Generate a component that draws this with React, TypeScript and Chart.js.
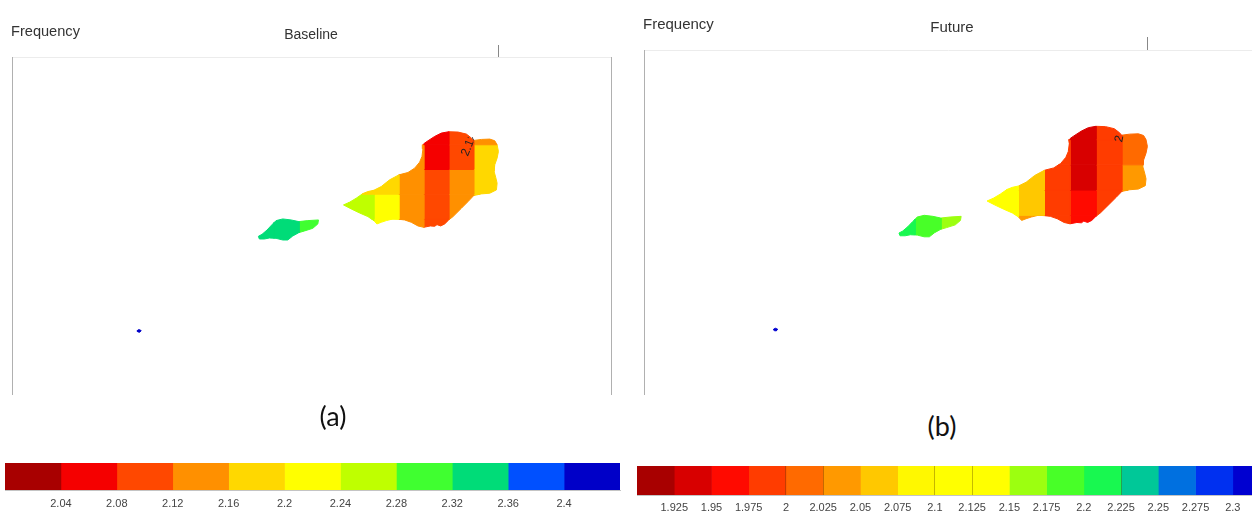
import React, { useEffect, useRef } from "react";
import { Chart, registerables } from "chart.js";

Chart.register(...registerables);

type P = [number, number];

// Coast lines digitised in map units; 74.75 units = one grid column, 74 units = one grid row
const mainCoast: P[] = [
  [12, 240], [30, 232], [50, 220], [70, 206], [85, 200], [103, 196], [125, 185], [150, 165], [178, 150], [205, 143],
  [225, 130], [240, 112], [247, 95], [250, 72], [248, 60], [262, 50], [285, 35], [305, 25], [327, 21], [355, 22],
  [380, 28], [393, 38], [402, 47], [425, 44], [450, 43], [465, 48], [472, 60], [476, 80], [472, 100], [465, 120],
  [463, 140], [468, 158], [472, 175], [470, 195], [450, 205], [425, 207], [402, 212], [385, 230], [365, 250], [340, 275],
  [327, 285], [315, 297], [303, 303], [292, 299], [285, 304], [272, 303], [252, 307], [235, 303], [215, 292], [195, 285],
  [178, 283], [160, 282], [140, 287], [125, 292], [112, 297], [103, 287], [85, 275], [60, 264], [35, 252],
];
const smallCoast: P[] = [
  [-243, 334], [-232, 328], [-217, 315], [-203, 300], [-190, 287], [-170, 282], [-145, 285], [-122, 290], [-95, 287], [-63, 285],
  [-65, 297], [-80, 310], [-105, 318], [-122, 323], [-140, 333], [-155, 345], [-170, 345], [-190, 340], [-210, 339], [-225, 342], [-240, 342],
];
const isletCoast: P[] = [[-607, 617], [-601, 613], [-594, 616], [-598, 621], [-604, 620]];

const columns = [-2, -1, 0, 1, 2, 3, 4, 5, 6, 7];
const rows = [-2, -1, 0, 1, 2];
const _ = null;

const baselineGrid: (number | null)[][] = [
  [_, _, _, _, _, _, _, 2.06, 2.1, 2.14],
  [_, _, _, _, _, _, 2.14, 2.06, 2.1, 2.18],
  [_, _, _, _, 2.18, 2.18, 2.14, 2.1, 2.14, 2.18],
  [_, _, _, 2.26, 2.26, 2.22, 2.14, 2.1, 2.14, 2.18],
  [2.34, 2.34, 2.3, _, 2.26, 2.22, 2.14, 2.1, 2.14, 2.18],
];
const futureGrid: (number | null)[][] = [
  [_, _, _, _, _, _, _, 1.94, 1.99, 2.01],
  [_, _, _, _, _, _, 1.99, 1.94, 1.99, 2.01],
  [_, _, _, _, 2.11, 2.06, 1.99, 1.94, 1.99, 2.04],
  [_, _, _, 2.11, 2.11, 2.06, 1.99, 1.96, 1.99, 2.04],
  [2.21, 2.19, 2.16, _, 2.11, 2.04, 1.99, 1.96, 1.99, 2.04],
];
const baselineIslet = 2.42;
const futureIslet = 2.31;

// Colour bars
const baselineLevels = [2.0, 2.04, 2.08, 2.12, 2.16, 2.2, 2.24, 2.28, 2.32, 2.36, 2.4, 2.44];
const baselineLabels = ["2.04", "2.08", "2.12", "2.16", "2.2", "2.24", "2.28", "2.32", "2.36", "2.4"];
const baselineColours = ["#A80000", "#F50000", "#FF4800", "#FF9000", "#FFD800", "#FFFF00", "#BFFF00", "#40FF30", "#00DC78", "#0050FF", "#0000C8"];

const futureLevels = [1.9, 1.925, 1.95, 1.975, 2.0, 2.025, 2.05, 2.075, 2.1, 2.125, 2.15, 2.175, 2.2, 2.225, 2.25, 2.275, 2.3, 2.325];
const futureLabels = ["1.925", "1.95", "1.975", "2", "2.025", "2.05", "2.075", "2.1", "2.125", "2.15", "2.175", "2.2", "2.225", "2.25", "2.275", "2.3"];
const futureColours = ["#A80000", "#D80000", "#FF0A00", "#FF3C00", "#FF6A00", "#FF9900", "#FFC800", "#FFF800", "#FFFF00", "#FFFF00", "#9CFF10", "#48FF28", "#18F850", "#00C898", "#0070E0", "#0030F0", "#0000D0"];
const futureSeams = [2.0, 2.025, 2.1, 2.125, 2.225];

const FONT = '"Liberation Sans", Arial, sans-serif';

const toCell = ([x, y]: P): P => [3 + (x - 103) / 74.75, (y - 134) / 74];

function clipPolygon(poly: P[], axis: 0 | 1, limit: number, keepAbove: boolean): P[] {
  const out: P[] = [];
  const inside = (p: P) => (keepAbove ? p[axis] >= limit : p[axis] <= limit);
  for (let i = 0; i < poly.length; i++) {
    const a = poly[i];
    const b = poly[(i + 1) % poly.length];
    if (inside(a)) out.push(a);
    if (inside(a) !== inside(b)) {
      const t = (limit - a[axis]) / (b[axis] - a[axis]);
      out.push([a[0] + t * (b[0] - a[0]), a[1] + t * (b[1] - a[1])]);
    }
  }
  return out;
}

function colourFor(value: number, levels: number[], colours: string[]) {
  for (let i = 0; i < colours.length; i++) if (value < levels[i + 1]) return colours[i];
  return colours[colours.length - 1];
}

function polygonDataset(poly: P[], colour: string) {
  const closed = [...poly, poly[0]];
  return {
    data: closed.map(([x, y]) => ({ x, y })),
    showLine: true,
    fill: "shape",
    pointRadius: 0,
    tension: 0,
    borderWidth: 1,
    borderColor: colour,
    backgroundColor: colour,
  };
}

function mapDatasets(grid: (number | null)[][], isletValue: number, levels: number[], colours: string[]) {
  const sets: any[] = [];
  grid.forEach((row, r) =>
    row.forEach((value, c) => {
      if (value === null) return;
      for (const island of [mainCoast.map(toCell), smallCoast.map(toCell)]) {
        let poly = clipPolygon(island, 0, columns[c], true);
        if (poly.length) poly = clipPolygon(poly, 0, columns[c] + 1, false);
        if (poly.length) poly = clipPolygon(poly, 1, rows[r], true);
        if (poly.length) poly = clipPolygon(poly, 1, rows[r] + 1, false);
        if (poly.length > 2) sets.push(polygonDataset(poly, colourFor(value, levels, colours)));
      }
    })
  );
  sets.push(polygonDataset(isletCoast.map(toCell), colourFor(isletValue, levels, colours)));
  return sets;
}

function contourPlugin(text: string, u: number, v: number, clipU: number, clipV: number, angle: number) {
  return {
    id: "contourLabel",
    afterDatasetsDraw(chart: any) {
      const { ctx, scales } = chart;
      const px = scales.x.getPixelForValue(u);
      const py = scales.y.getPixelForValue(v);
      ctx.save();
      ctx.beginPath();
      ctx.rect(0, scales.y.getPixelForValue(clipV), scales.x.getPixelForValue(clipU), chart.height);
      ctx.clip();
      ctx.translate(px, py);
      ctx.rotate((angle * Math.PI) / 180);
      ctx.font = `12px ${FONT}`;
      ctx.fillStyle = "#222";
      ctx.textAlign = "center";
      ctx.textBaseline = "middle";
      ctx.fillText(text, 0, 0);
      ctx.restore();
    },
  };
}

function makeMap(canvas: HTMLCanvasElement, cfg: any) {
  return new Chart(canvas, {
    type: "scatter",
    data: { datasets: mapDatasets(cfg.grid, cfg.islet, cfg.levels, cfg.colours) },
    plugins: [contourPlugin(cfg.label, cfg.labelU, cfg.labelV, cfg.clipU, cfg.clipV, cfg.labelAngle)],
    options: {
      animation: false,
      responsive: false,
      layout: { padding: cfg.padding },
      plugins: { legend: { display: false }, tooltip: { enabled: false }, title: { display: false } },
      scales: {
        x: {
          type: "linear",
          position: "top",
          min: -11.5,
          max: cfg.xMax,
          afterBuildTicks: (s: any) => { s.ticks = [{ value: 8 }]; },
          ticks: { display: false },
          border: { display: true, color: "#ececec", width: 1 },
          grid: { drawOnChartArea: false, drawTicks: true, tickLength: cfg.tickLength, tickColor: "#888", tickWidth: 1 },
        },
        y: {
          type: "linear",
          position: "left",
          reverse: true,
          min: -4.55,
          max: 9.08,
          ticks: { display: false },
          border: { display: true, color: "#b0b0b0", width: 1 },
          grid: { drawOnChartArea: false, drawTicks: false },
        },
        ...(cfg.rightAxis
          ? {
              y2: {
                type: "linear",
                position: "right",
                display: true,
                min: -4.55,
                max: 9.08,
                ticks: { display: false },
                border: { display: true, color: "#b0b0b0", width: 1 },
                grid: { drawOnChartArea: false, drawTicks: false },
              },
            }
          : {}),
      },
    } as any,
  } as any);
}

function makeBar(canvas: HTMLCanvasElement, cfg: any) {
  const levels: number[] = cfg.levels;
  const seams: number[] = cfg.seams;
  return new Chart(canvas, {
    type: "bar",
    data: {
      labels: ["Frequency"],
      datasets: (cfg.colours as string[]).map((colour, i) => ({
        data: [[levels[i], levels[i + 1]]],
        backgroundColor: colour,
        borderWidth: 0,
        barPercentage: 1,
        categoryPercentage: 1,
        grouped: false,
      })),
    },
    options: {
      animation: false,
      responsive: false,
      indexAxis: "y",
      layout: { padding: cfg.padding },
      plugins: { legend: { display: false }, tooltip: { enabled: false } },
      scales: {
        x: {
          type: "linear",
          min: levels[0],
          max: cfg.xMax,
          afterBuildTicks: (s: any) => {
            s.ticks = levels.slice(1, cfg.labels.length + 1).map((value) => ({ value }));
          },
          afterFit: (s: any) => { s.height = cfg.axisHeight; },
          ticks: {
            autoSkip: false,
            maxRotation: 0,
            padding: cfg.tickPadding,
            color: "#444",
            font: { family: FONT, size: 11 },
            callback: (_v: any, i: number) => cfg.labels[i],
          },
          border: { display: true, color: "#c4c4c4", width: 1, z: 2 },
          grid: {
            z: 1,
            drawTicks: false,
            lineWidth: 1,
            color: (c: any) => (c.tick && seams.includes(c.tick.value) ? "rgba(90,60,0,0.35)" : "rgba(0,0,0,0)"),
          },
        },
        y: {
          ticks: { display: false },
          border: { display: true, color: "#c4c4c4", width: 1 },
          grid: { display: false, drawTicks: false },
        },
      },
    } as any,
  } as any);
}

const label = (text: string, left: number, top: number, size: number, center = false, family = FONT, color = "#333"): React.ReactElement => (
  <span
    key={text + left}
    style={{
      position: "absolute",
      left,
      top,
      fontFamily: family,
      fontSize: size,
      lineHeight: "1",
      color,
      whiteSpace: "nowrap",
      transform: center ? "translate(-50%, -50%)" : "translateY(-50%)",
    }}
  >
    {text}
  </span>
);

export default function App() {
  const mapA = useRef<HTMLCanvasElement>(null);
  const mapB = useRef<HTMLCanvasElement>(null);
  const barA = useRef<HTMLCanvasElement>(null);
  const barB = useRef<HTMLCanvasElement>(null);

  useEffect(() => {
    const charts = [
      makeMap(mapA.current!, {
        grid: baselineGrid, islet: baselineIslet, levels: baselineLevels, colours: baselineColours,
        label: "2.12", labelU: 6.81, labelV: -1.0, clipU: 7.0, clipV: -1.3, labelAngle: -68,
        xMax: 12.5, tickLength: 12, rightAxis: true,
        padding: { left: 12, top: 45, right: 15, bottom: 6 },
      }),
      makeMap(mapB.current!, {
        grid: futureGrid, islet: futureIslet, levels: futureLevels, colours: futureColours,
        label: "2", labelU: 6.91, labelV: -1.03, clipU: 12, clipV: -4, labelAngle: -78,
        xMax: 12.04, tickLength: 13, rightAxis: false,
        padding: { left: 18, top: 37, right: 0, bottom: 6 },
      }),
      makeBar(barA.current!, {
        levels: baselineLevels, colours: baselineColours, labels: baselineLabels, seams: [], xMax: 2.44,
        axisHeight: 22, tickPadding: 7, padding: { left: 5, top: 13, right: 6, bottom: 0 },
      }),
      makeBar(barB.current!, {
        levels: futureLevels, colours: futureColours, labels: futureLabels, seams: futureSeams, xMax: 2.3129,
        axisHeight: 17, tickPadding: 6, padding: { left: 11, top: 16, right: 0, bottom: 0 },
      }),
    ];
    return () => charts.forEach((c) => c.destroy());
  }, []);

  const abs = (left: number, top: number): React.CSSProperties => ({ position: "absolute", left, top });

  return (
    <div style={{ position: "fixed", left: 0, top: 0, width: 1252, height: 512, overflow: "hidden", background: "#fff" }}>
      <canvas ref={mapA} width={626} height={400} style={abs(0, 0)} />
      <canvas ref={mapB} width={626} height={400} style={abs(626, 0)} />
      <canvas ref={barA} width={626} height={62} style={abs(0, 450)} />
      <canvas ref={barB} width={626} height={62} style={abs(626, 450)} />
      {label("Frequency", 11, 31, 14.6)}
      {label("Baseline", 311, 34, 14, true)}
      {label("Frequency", 643, 23, 15)}
      {label("Future", 952, 26, 15, true)}
      {label("(a)", 333, 415, 27, true, "Lato, sans-serif", "#111")}
      {label("(b)", 942, 425, 27, true, "Lato, sans-serif", "#111")}
    </div>
  );
}
